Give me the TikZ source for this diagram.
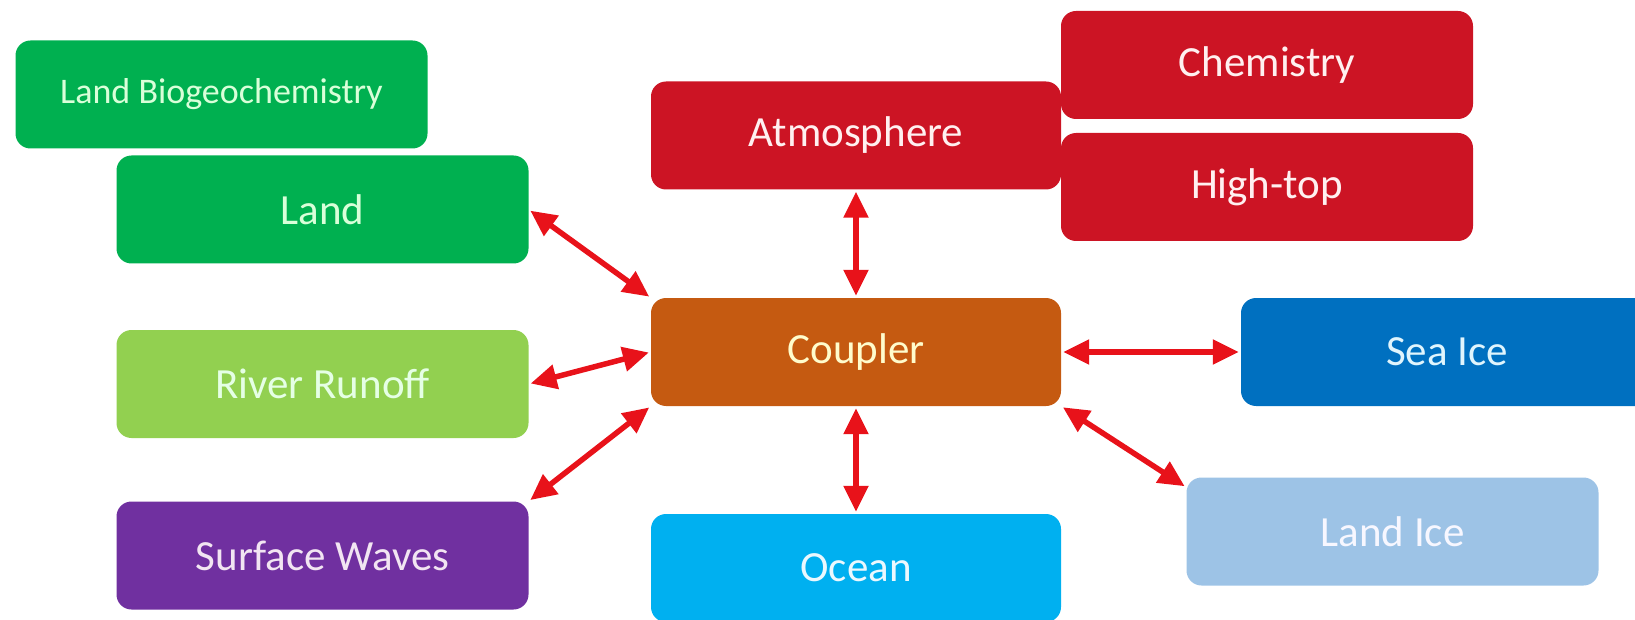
\documentclass[tikz,border=0pt]{standalone}
\usepackage{fontspec}
\setmainfont{Carlito}
\usetikzlibrary{arrows.meta}

\definecolor{landgreen}{HTML}{00B050}
\definecolor{rivergreen}{HTML}{92D050}
\definecolor{wavepurple}{HTML}{7030A0}
\definecolor{atmred}{HTML}{CC1424}
\definecolor{couplerorange}{HTML}{C55A11}
\definecolor{seaiceblue}{HTML}{0070C0}
\definecolor{oceanblue}{HTML}{00B0F0}
\definecolor{landiceblue}{HTML}{9DC3E6}
\definecolor{linkred}{HTML}{E8121A}

\begin{document}
\begin{tikzpicture}[x=1pt, y=-1pt]

\tikzstyle{box} = [rectangle, rounded corners=15pt, minimum width=412pt, minimum height=108pt, inner sep=0pt, font=\fontsize{43}{50}\selectfont]
\tikzstyle{link} = [draw=linkred, line width=5.5pt, {Triangle[length=26pt,width=24pt]}-{Triangle[length=26pt,width=24pt]}, shorten <=2pt, shorten >=2pt]

\useasboundingbox (0,0) rectangle (1635,620);
\clip (0,0) rectangle (1635,620);

\node[box, fill=landgreen, text=green!15!white, font=\fontsize{36}{42}\selectfont] (lb) at (221.5,94.5) {Land Biogeochemistry};
\node[box, fill=landgreen, text=green!15!white] (land) at (322.5,209.5) {Land};
\node[box, fill=rivergreen, text=green!10!white] (river) at (322.5,384) {River Runoff};
\node[box, fill=wavepurple, text=violet!10!white] (waves) at (322.5,555.5) {Surface Waves};

\node[box, fill=atmred, text=red!6!white, minimum width=410pt] (atm) at (856,135.5) {Atmosphere};
\node[box, fill=atmred, text=red!6!white] (chem) at (1267,65) {Chemistry};
\node[box, fill=atmred, text=red!6!white] (high) at (1267,187) {High-top};

\node[box, fill=couplerorange, text=yellow!20!white, minimum width=410pt] (cpl) at (856,352) {Coupler};
\node[box, fill=seaiceblue, text=cyan!12!white] (ice) at (1447,352) {Sea Ice};
\node[box, fill=oceanblue, text=cyan!8!white, minimum width=410pt] (ocn) at (856,568) {Ocean};
\node[box, fill=landiceblue, text=blue!3!white] (glc) at (1392.5,531.5) {Land Ice};

\draw[link] (land.east) -- (cpl.north west);
\draw[link] (river.east) -- (cpl.west);
\draw[link] (waves.north east) -- (cpl.south west);
\draw[link] (atm.south) -- (cpl.north);
\draw[link] (cpl.east) -- (ice.west);
\draw[link] (cpl.south) -- (ocn.north);
\draw[link] (cpl.south east) -- ([yshift=-10pt]glc.north west);

\end{tikzpicture}
\end{document}
